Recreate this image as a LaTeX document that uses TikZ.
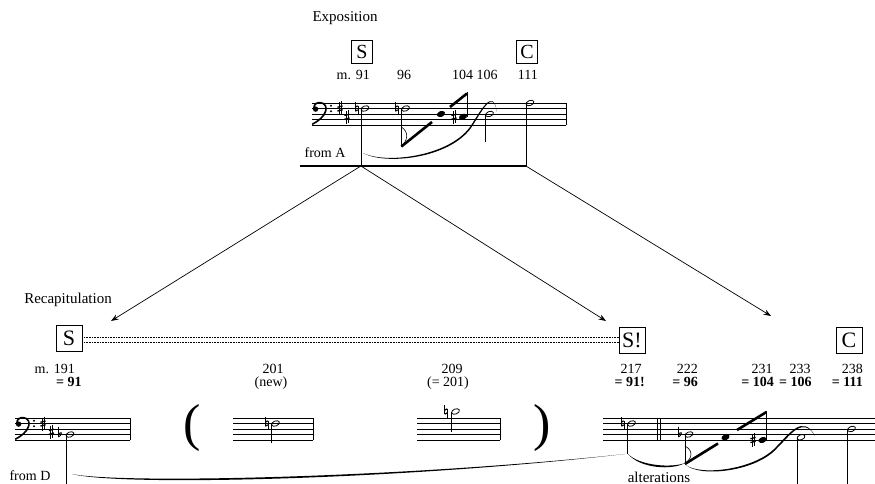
\documentclass[tikz,border=0pt]{standalone}
\usepackage{fontspec}
\setmainfont{Liberation Serif}
\usetikzlibrary{arrows.meta}
\tikzset{
  pics/mysharp/.style={code={
    \draw[line width=0.5pt] (-1.1,-6) -- (-1.1,7) (1.1,-7) -- (1.1,6);
    \draw[line width=1.3pt] (-2.6,-1.2) -- (2.6,-2.6) (-2.6,2.6) -- (2.6,1.2);
  }},
  pics/mynat/.style={code={
    \draw[line width=0.5pt] (-1.3,-6.5) -- (-1.3,2.8) (1.3,-2.8) -- (1.3,6.5);
    \draw[line width=1.2pt] (-1.3,-1.4) -- (1.3,-2.6) (-1.3,2.6) -- (1.3,1.4);
  }},
  pics/myflat/.style={code={
    \draw[line width=0.5pt] (-1.6,-8) -- (-1.6,2.6);
    \draw[line width=0.9pt] (-1.6,-0.3) .. controls (1,-3.5) and (3.8,-1.5) .. (-1.6,2.6);
  }},
  pics/hnote/.style={code={
    \draw[line width=0.8pt, rotate=22] (0,0) ellipse (4.1 and 2.5);
  }},
  pics/qnote/.style={code={
    \fill[rotate=22] (0,0) ellipse (4.2 and 2.9);
  }},
  pics/fclef/.style={code={
    \fill (2.6,0.6) circle (2.7);
    \draw[line width=1.6pt] (0.8,0.2) .. controls (0.6,-4.8) and (4.5,-6.3) .. (7.5,-5.9)
       .. controls (12.3,-5.4) and (14,-1) .. (12.6,2.8) .. controls (11,8.3) and (5,12.8) .. (-0.8,15.8);
    \fill (18,-2.75) circle (1.2) (18,2.75) circle (1.2);
  }},
}
\newcommand\mystaff[3]{%
  \foreach \i in {0,...,4} \draw[staffline] (#1,{#3+5.5*\i}) -- (#2,{#3+5.5*\i});}
\begin{document}
\begin{tikzpicture}[x=1pt,y=-1pt,
  lbl/.style={font=\fontsize{14}{16}\selectfont, inner sep=0pt},
  bl/.style={font=\fontsize{14}{16}\selectfont\bfseries, inner sep=0pt},
  head/.style={font=\fontsize{15}{17}\selectfont, inner sep=0pt},
  small/.style={font=\fontsize{14}{16}\selectfont, inner sep=0pt},
  paren/.style={inner sep=0pt, font=\fontsize{52}{52}\selectfont},
  tbox/.style={draw, line width=0.7pt, minimum width=21pt, minimum height=23pt, inner sep=0pt, font=\fontsize{20}{21}\selectfont},
  bbox/.style={draw, line width=0.7pt, minimum width=26pt, minimum height=26pt, inner sep=0pt, font=\fontsize{22}{23}\selectfont},
  staffline/.style={line width=0.5pt},
  barl/.style={line width=0.7pt},
  stem/.style={line width=0.6pt},
  beam/.style={line width=2.6pt},
  arr/.style={line width=0.7pt, -{Stealth[length=7.5pt,width=5.5pt]}},
  dotline/.style={line width=0.6pt, dash pattern=on 0.8pt off 0.8pt},
]
\useasboundingbox (0,0) rectangle (875,484);

% ---------- Exposition ----------
\node[head] (expo) at (345,18) {Exposition};
\node[tbox] (ES) at (362,52) {S};
\node[tbox] (EC) at (527,52) {C};
\node[lbl, anchor=east] (t91) at (370,75) {m. 91};
\node[lbl] (t96) at (404,75) {96};
\node[lbl] (t104) at (462.7,75) {104};
\node[lbl] (t106) at (487,75) {106};
\node[lbl] (t111) at (527.8,75) {111};

\mystaff{312}{566}{103}
\draw[barl] (566,103) -- (566,125);
\pic at (313,108.5) {fclef};
\pic at (340,108.5) {mysharp};
\pic at (347,116.75) {mysharp};
% m. 91
\pic at (356.5,108.5) {mynat};
\pic at (365,108.5) {hnote};
\draw[stem] (360.9,108.5) -- (360.9,166);
% 96
\pic at (396.5,108.5) {mynat};
\pic at (405.5,108.5) {hnote};
\draw[stem] (401.4,108.5) -- (401.4,147);
\draw[line width=0.6pt] (401.4,127) .. controls (409,132) and (408,140) .. (401.4,146.5);
\draw[beam] (401.4,146.5) -- (432,122);
% 104
\pic at (441,114) {qnote};
\pic at (454,116.75) {mysharp};
\pic at (463,116.75) {qnote};
\draw[stem] (467,116.75) -- (467,92.5);
\draw[beam] (450,107) -- (467,93.5);
% 106
\pic at (489.5,114) {hnote};
\draw[stem] (485.4,114) -- (485.4,142);
% 111
\pic at (530,103) {hnote};
\draw[stem] (525.9,103) -- (525.9,166);
% tapered slur
\fill (363,153) .. controls (385,164) and (448,157) .. (470,127)
   .. controls (480,112) and (493,86) .. (497,112)
   .. controls (493,87.5) and (481.2,112.7) .. (471.2,127.7)
   .. controls (449,158.8) and (385,165.3) .. (363,153) -- cycle;
\draw[line width=2.8pt] (300,166) -- (527,166);
\node[small] (fromA) at (325,153) {from A};

\coordinate (a1) at (360.9,166);
\coordinate (a2) at (525.9,166);
\coordinate (r1) at (111,321);
\coordinate (r2) at (606,321);
\coordinate (r3) at (771,316);
\draw[arr] (a1) -- (r1);
\draw[arr] (a1) -- (r2);
\draw[arr] (a2) -- (r3);

% ---------- Recapitulation ----------
\node[head] (recap) at (68,300) {Recapitulation};
\node[bbox] (RS) at (69,338.5) {S};
\node[bbox] (RS2) at (632,340) {S!};
\node[bbox] (RC) at (849,340) {C};
\draw[dotline] ([yshift=1.5pt]RS.east) -- ([yshift=1.5pt]RS.east -| RS2.west);
\draw[dotline] ([yshift=-3.5pt]RS.east) -- ([yshift=-3.5pt]RS.east -| RS2.west);

\node[lbl, anchor=east] (l191) at (75,369) {m. 191};
\node[bl, anchor=east] (e91) at (81.7,382) {= 91};
\node[lbl] (l201) at (273,369) {201};
\node[lbl] (lnew) at (271,383) {(new)};
\node[lbl] (l209) at (452,369) {209};
\node[lbl] (l209b) at (448,383) {(= 201)};
\node[lbl, anchor=east] (l217) at (641.7,369) {217};
\node[bl, anchor=east] (e91b) at (645,382) {= 91!};
\node[lbl, anchor=east] (l222) at (698,369) {222};
\node[bl, anchor=east] (e96) at (698,382) {= 96};
\node[lbl, anchor=east] (l231) at (772.7,369) {231};
\node[bl, anchor=east] (e104) at (774,382) {= 104};
\node[lbl, anchor=east] (l233) at (810.7,369) {233};
\node[bl, anchor=east] (e106) at (811.7,382) {= 106};
\node[lbl, anchor=east] (l238) at (863,369) {238};
\node[bl, anchor=east] (e111) at (863,382) {= 111};

% staff 191
\mystaff{15}{130}{418}
\draw[barl] (130,418) -- (130,440);
\pic at (16,423.5) {fclef};
\pic at (43,423.5) {mysharp};
\pic at (51.5,431.75) {mysharp};
\pic at (60,434.5) {myflat};
\pic at (70,434.5) {hnote};
\draw[stem] (65.9,434.5) -- (65.9,484);
\node[small] (fromD) at (30,476) {from D};

% parentheses
\node[paren] (lp) at (192,428) {(};
\node[paren] (rp) at (542,428) {)};

% staff 201
\mystaff{233}{313}{418}
\draw[barl] (313,418) -- (313,440);
\pic at (266.5,423.5) {mynat};
\pic at (275.5,423.5) {hnote};
\draw[stem] (271.4,423.5) -- (271.4,443);

% staff 209
\mystaff{417}{500}{418}
\draw[barl] (500,418) -- (500,440);
\pic at (446,411.5) {mynat};
\pic at (455.5,411.5) {hnote};
\draw[stem] (451.4,411.5) -- (451.4,432);

% staff 217 ff.
\mystaff{603}{875}{418}
\draw[barl] (657,418) -- (657,440) (660,418) -- (660,440);
\pic at (622.5,423.5) {mynat};
\pic at (631.5,423.5) {hnote};
\draw[stem] (627.4,423.5) -- (627.4,454);
\fill (72,474) .. controls (120,484) and (400,478) .. (625,454)
   .. controls (400,480) and (120,486.5) .. (72,474) -- cycle;
\fill (628,454) .. controls (640,466) and (672,468) .. (685,463)
   .. controls (672,470.5) and (640,468.5) .. (628,454) -- cycle;
% 222
\pic at (680,434.5) {myflat};
\pic at (689,434.5) {hnote};
\draw[stem] (684.9,434.5) -- (684.9,464);
\draw[line width=0.6pt] (684.9,446) .. controls (693,450) and (693,458) .. (684.9,463.5);
\draw[beam] (684.9,464) -- (718,443.5);
% 231
\pic at (725.5,437.25) {qnote};
\pic at (753,440) {mysharp};
\pic at (762.5,440) {qnote};
\draw[stem] (766.5,440) -- (766.5,411);
\draw[beam] (737,430) -- (766.5,412);
\fill (686,465) .. controls (700,476) and (755,470) .. (776,447)
   .. controls (788,435) and (803,413) .. (815,436)
   .. controls (803,415) and (789.3,436.3) .. (777.3,447.9)
   .. controls (756,472) and (700,477.5) .. (686,465) -- cycle;
% 233
\pic at (801,437.25) {hnote};
\draw[stem] (796.9,437.25) -- (796.9,484);
% 238
\pic at (851.5,429) {hnote};
\draw[stem] (847.4,429) -- (847.4,484);
\node[head] (alt) at (659,477) {alterations};
\end{tikzpicture}
\end{document}
